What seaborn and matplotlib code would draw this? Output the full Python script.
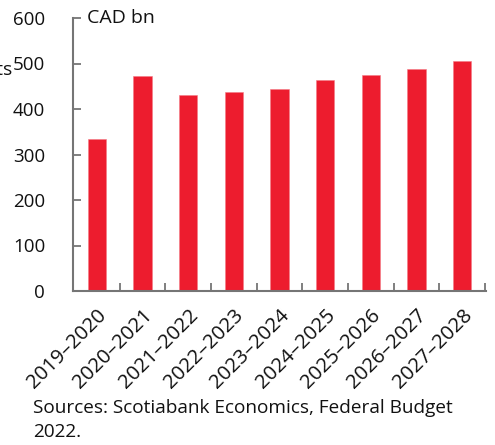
import matplotlib
matplotlib.use("Agg")
import matplotlib.pyplot as plt
import seaborn as sns
import pandas as pd
from matplotlib.ticker import FixedLocator

categories = ["2019–2020", "2020–2021", "2021–2022", "2022–2023", "2023–2024",
              "2024–2025", "2025–2026", "2026–2027", "2027–2028"]
values = [333, 472, 431, 438, 445, 463, 475, 488, 505]
y_ticks = [0, 100, 200, 300, 400, 500, 600]
unit_label = "CAD bn"
side_label = "Receipts"
source_line1 = "Sources: Scotiabank Economics, Federal Budget"
source_line2 = "2022."

sns.set_theme(style="white")
plt.rcParams['font.family'] = ['Open Sans', 'DejaVu Sans']

RED = "#ED1C2E"
AXC = "#757575"
TXT = "#111111"

df = pd.DataFrame({"period": categories, "value": values})

fig = plt.figure(figsize=(4.95, 4.45), dpi=100)
ax = fig.add_axes([73/495, 1 - 291/445, (486 - 73)/495, (291 - 18)/445])

sns.barplot(data=df, x="period", y="value", color=RED, width=0.4,
            saturation=1, edgecolor="#F47A85", linewidth=0.4, ax=ax)

ax.set_ylim(0, 600)
ax.set_xlim(-0.52, 8.52)
ax.set_yticks(y_ticks)
ax.set_xlabel("")
ax.set_ylabel("")

for s in ["top", "right"]:
    ax.spines[s].set_visible(False)
for s in ["left", "bottom"]:
    ax.spines[s].set_color(AXC)
    ax.spines[s].set_linewidth(1.5)

ax.tick_params(axis="y", direction="in", length=6, width=1.3, color=AXC,
               labelsize=13.5, labelcolor=TXT, pad=20, left=True)
ax.tick_params(axis="x", which="major", length=0, labelsize=14.7,
               labelcolor=TXT, pad=10)
ax.xaxis.set_minor_locator(FixedLocator([i + 0.5 for i in range(len(categories))]))
ax.tick_params(axis="x", which="minor", direction="in", length=6, width=1.3,
               color=AXC, bottom=True)

for lab in ax.get_xticklabels():
    lab.set_rotation(45)
    lab.set_ha("right")
    lab.set_va("top")
    lab.set_rotation_mode("anchor")

ax.text(0.035, 1.0, unit_label, transform=ax.transAxes, fontsize=14,
        color=TXT, va="center", ha="left")
fig.text(12/495, 1 - 70/445, side_label, fontsize=14, color=TXT,
         ha="right", va="center")
fig.text(33/495, 1 - 408/445, source_line1, fontsize=13.7, color=TXT,
         ha="left", va="center")
fig.text(33/495, 1 - 432/445, source_line2, fontsize=13.7, color=TXT,
         ha="left", va="center")

fig.savefig("out.png", dpi=100)
